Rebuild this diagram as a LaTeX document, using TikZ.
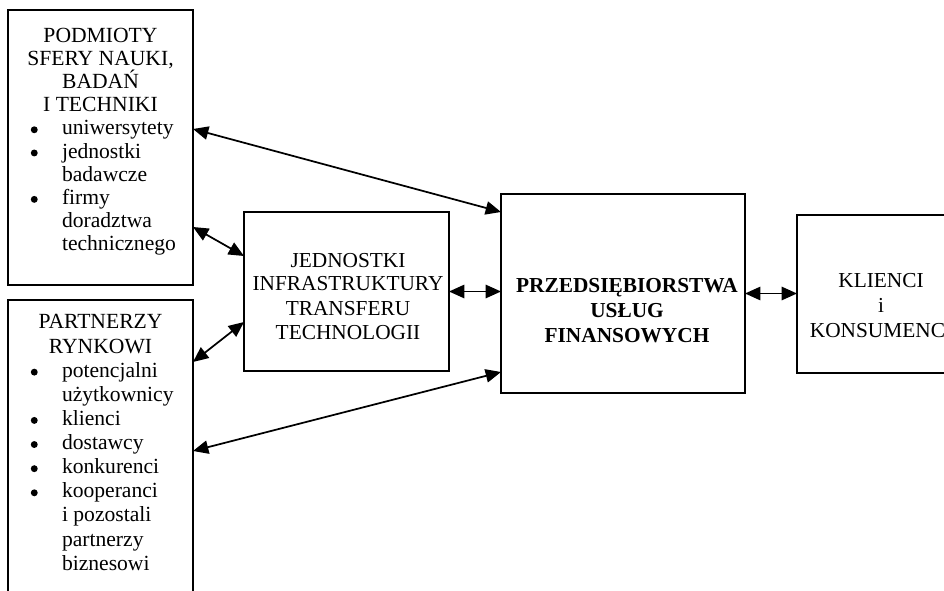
\documentclass[tikz,border=0pt]{standalone}
\usepackage{fontspec}
\setmainfont{Liberation Serif}
\usetikzlibrary{arrows.meta,calc}
\newcommand{\bul}{\llap{\raisebox{1.2pt}{\tikz\fill (0,0) circle (2.6pt);}\hspace{18.2pt}}}
\begin{document}
\lineskiplimit-20pt\relax
\begin{tikzpicture}[x=0.75pt,y=-0.75pt,
  frame/.style={draw, line width=1.4pt, inner sep=0pt, outer sep=0pt},
  txt/.style={inner sep=0pt, outer sep=0pt},
  fa/.style={font=\fontsize{16.2}{17.4}\selectfont},
  fb/.style={font=\fontsize{16.2}{18.1}\selectfont},
  fc/.style={font=\fontsize{16}{18}\selectfont},
  fd/.style={font=\fontsize{16}{18.75}\selectfont\bfseries},
  fe/.style={font=\fontsize{16}{18.4}\selectfont},
  link/.style={line width=1.3pt, {Triangle[length=11.5pt,width=10pt]}-{Triangle[length=11.5pt,width=10pt]}}]
\useasboundingbox (0,0) rectangle (944,591);
\clip (0,0) rectangle (944,591);
% boxes
\node[frame, minimum width=138.75pt, minimum height=206.25pt] (tl) at (100.5,147.5) {};
\node[frame, minimum width=138.75pt, minimum height=255pt] (bl) at (100.5,470) {};
\node[frame, minimum width=153.75pt, minimum height=119.25pt] (jed) at (346.5,291.5) {};
\node[frame, minimum width=183pt, minimum height=149.25pt] (prz) at (623,293.5) {};
\node[frame, minimum width=126pt, minimum height=118.5pt] (kli) at (881,294) {};
% texts
\node[txt, fa, align=center, anchor=north] (tlhead) at (100.5,25.8)
  {\strut PODMIOTY\\SFERY NAUKI,\\BADAŃ\\I TECHNIKI};
\node[txt, fa, align=left, anchor=north west] (tllist) at (62,118.6)
  {\strut\bul uniwersytety\\\bul jednostki\\badawcze\\\bul firmy\\doradztwa\\technicznego};
\node[txt, fb, align=center, anchor=north] (blhead) at (100.5,312.1)
  {\strut PARTNERZY\\RYNKOWI};
\node[txt, fb, align=left, anchor=north west] (bllist) at (62,360.3)
  {\strut\bul potencjalni\\użytkownicy\\\bul klienci\\\bul dostawcy\\\bul konkurenci\\\bul kooperanci\\i pozostali\\partnerzy\\biznesowi};
\node[txt, fc, align=center, anchor=north] (jedtxt) at (348,250.2)
  {\strut JEDNOSTKI\\INFRASTRUKTURY\\TRANSFERU\\TECHNOLOGII};
\node[txt, fd, align=center, anchor=north] (prztxt) at (627,274.5)
  {\strut PRZEDSIĘBIORSTWA\\USŁUG\\FINANSOWYCH};
\node[txt, fe, align=center, anchor=north] (klitxt) at (881,270.8)
  {\strut KLIENCI\\i\\KONSUMENCI};
% connectors
\draw[link] ([shift={(0,119)}]tl.north east) -- ([shift={(0,18)}]prz.north west);
\draw[link] ([shift={(0,217)}]tl.north east) -- ([shift={(0,44)}]jed.north west);
\draw[link] ([shift={(0,62)}]bl.north east) -- ([shift={(0,110)}]jed.north west);
\draw[link] ([shift={(0,151)}]bl.north east) -- ([shift={(0,178)}]prz.north west);
\draw[link] (jed.east) -- (jed.east -| prz.west);
\draw[link] (prz.east) -- (prz.east -| kli.west);
\end{tikzpicture}
\end{document}
